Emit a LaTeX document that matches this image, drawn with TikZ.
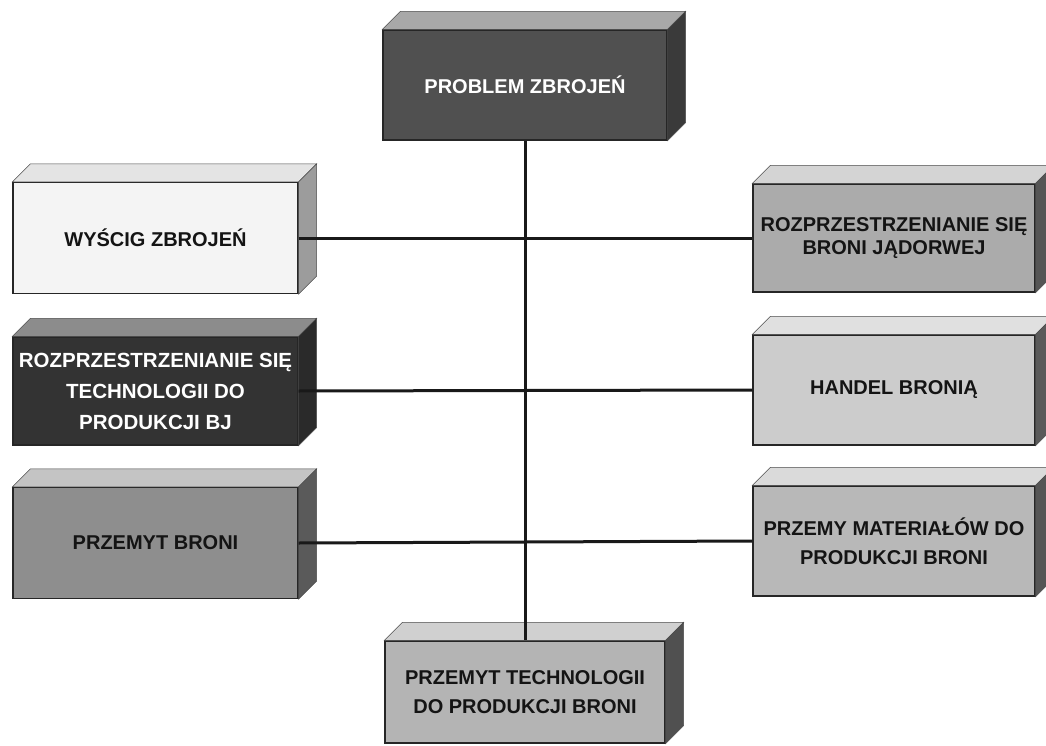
\documentclass[tikz,border=0pt]{standalone}
\usepackage{fontspec}
\setmainfont{Liberation Sans}
\usetikzlibrary{calc}
\definecolor{topF}{HTML}{505050}\definecolor{topT}{HTML}{A8A8A8}\definecolor{topS}{HTML}{3A3A3A}
\definecolor{l1F}{HTML}{F4F4F4}\definecolor{l1T}{HTML}{E4E4E4}\definecolor{l1S}{HTML}{9C9C9C}
\definecolor{l2F}{HTML}{333333}\definecolor{l2T}{HTML}{8C8C8C}\definecolor{l2S}{HTML}{2A2A2A}
\definecolor{l3F}{HTML}{8E8E8E}\definecolor{l3T}{HTML}{C4C4C4}\definecolor{l3S}{HTML}{5A5A5A}
\definecolor{r1F}{HTML}{ABABAB}\definecolor{r1T}{HTML}{D4D4D4}\definecolor{r1S}{HTML}{555555}
\definecolor{r2F}{HTML}{CCCCCC}\definecolor{r2T}{HTML}{E0E0E0}\definecolor{r2S}{HTML}{5A5A5A}
\definecolor{r3F}{HTML}{B8B8B8}\definecolor{r3T}{HTML}{DADADA}\definecolor{r3S}{HTML}{555555}
\definecolor{bF}{HTML}{B4B4B4}\definecolor{bT}{HTML}{D0D0D0}\definecolor{bS}{HTML}{505050}
\newcommand\klocek[3]{%
  \draw[face,fill=#2] (#1.north west) -- ++(18,-18) -- ([shift={(18,-18)}]#1.north east) -- (#1.north east) -- cycle;
  \draw[face,fill=#3] (#1.north east) -- ++(18,-18) -- ([shift={(18,-18)}]#1.south east) -- (#1.south east) -- cycle;
}
\tikzset{
  blok/.style={draw=black!85, line width=1.2pt, align=center, inner sep=1pt,
    font=\bfseries\fontsize{20}{29}\selectfont, text=black!92},
  face/.style={draw=black!70, line width=0.6pt},
  wire/.style={draw=black!90, line width=3pt},
}
\begin{document}
\begin{tikzpicture}[x=1pt,y=-1pt]
\useasboundingbox (0,0) rectangle (1046,746);
\clip (0,0) rectangle (1046,746);
\fill[white] (0,0) rectangle (1046,746);
% nodes
\node[blok, fill=topF, text=white, minimum width=284pt, minimum height=110pt] (top) at (525,85) {PROBLEM ZBROJEŃ};
\node[blok, fill=bF, minimum width=280pt, minimum height=102pt] (bot) at (525,692) {PRZEMYT TECHNOLOGII\\DO PRODUKCJI BRONI};
\node[blok, fill=l1F, minimum width=285pt, minimum height=111pt] (l1) at (155.5,238) {WYŚCIG ZBROJEŃ};
\node[blok, fill=l2F, text=white, minimum width=285pt, minimum height=108pt, font=\bfseries\fontsize{20.5}{31}\selectfont] (l2) at (155.5,391) {ROZPRZESTRZENIANIE SIĘ\\TECHNOLOGII DO\\PRODUKCJI BJ};
\node[blok, fill=l3F, minimum width=285pt, minimum height=111pt] (l3) at (155.5,543) {PRZEMYT BRONI};
\node[blok, fill=r1F, minimum width=282pt, minimum height=108pt, font=\bfseries\fontsize{20}{23}\selectfont] (r1) at (894,238) {ROZPRZESTRZENIANIE SIĘ\\BRONI JĄDORWEJ};
\node[blok, fill=r2F, minimum width=282pt, minimum height=110pt] (r2) at (894,390) {HANDEL BRONIĄ};
\node[blok, fill=r3F, minimum width=282pt, minimum height=110pt] (r3) at (894,541) {PRZEMY MATERIAŁÓW DO\\PRODUKCJI BRONI};
% 3D faces
\klocek{top}{topT}{topS}
\klocek{bot}{bT}{bS}
\klocek{l1}{l1T}{l1S}
\klocek{l2}{l2T}{l2S}
\klocek{l3}{l3T}{l3S}
\klocek{r1}{r1T}{r1S}
\klocek{r2}{r2T}{r2S}
\klocek{r3}{r3T}{r3S}
% connectors
\draw[wire] (top.south) -- (bot.north);
\draw[wire] (l1.east) -- (r1.west);
\draw[wire] (l2.east) -- (r2.west);
\draw[wire] (l3.east) -- (r3.west);
\end{tikzpicture}
\end{document}
